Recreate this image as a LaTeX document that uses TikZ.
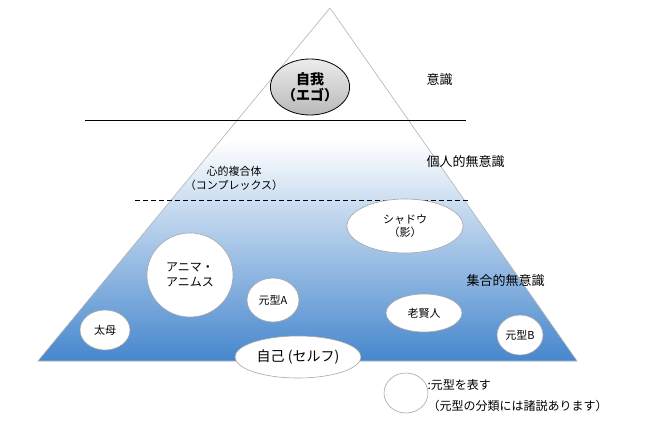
\documentclass[tikz,border=0pt]{standalone}
\usepackage{fontspec}
\setmainfont{Noto Sans CJK JP}
\begin{document}
\begin{tikzpicture}[x=1pt,y=-1pt,
  arch/.style={ellipse,draw=gray!70,fill=white,line width=0.6pt,inner sep=0pt,align=center,font=\fontsize{11}{13}\selectfont},
  lbl/.style={font=\fontsize{13}{15}\selectfont,anchor=west}]
\useasboundingbox (0,0) rectangle (663,429);
\usetikzlibrary{shapes.geometric}
\definecolor{pb}{RGB}{70,135,205}
\coordinate (T) at (330,8);
\coordinate (L) at (38,361);
\coordinate (R) at (577,361);
\begin{scope}
\clip (T) -- (L) -- (R) -- cycle;
\fill[white] (0,0) rectangle (663,140);
\shade[top color=white,bottom color=pb] (0,140) rectangle (663,361);
\end{scope}
\draw[gray!60,line width=0.6pt] (T) -- (L) -- (R) -- cycle;
\coordinate (s1) at (85,120); \coordinate (s2) at (466,120);
\draw[line width=1pt] (s1) -- (s2);
\coordinate (d1) at (135,200); \coordinate (d2) at (470,200);
\draw[line width=1pt,dashed,dash pattern=on 5pt off 3pt] (d1) -- (d2);
\node[ellipse,draw=black,line width=0.8pt,top color=gray!15,bottom color=gray!55,minimum width=78pt,minimum height=56pt,inner sep=0pt,align=center,font=\fontsize{14}{16}\selectfont\bfseries] (ego) at (310,87) {自我\\（エゴ）};
\node[lbl] (ishiki) at (423,80) {意識};
\node[lbl] (kojin) at (423,162) {個人的無意識};
\node[lbl] (shugo) at (463,281) {集合的無意識};
\node[align=center,font=\fontsize{11}{14}\selectfont] (comp) at (234,178) {心的複合体\\（コンプレックス）};
\node[arch,minimum width=116pt,minimum height=54pt] (shadow) at (405,226) {シャドウ\\（影）};
\node[arch,minimum width=86pt,minimum height=84pt,font=\fontsize{12}{15}\selectfont] (anima) at (190,275) {アニマ・\\アニムス};
\node[arch,minimum width=52pt,minimum height=44pt] (a) at (273,300) {元型A};
\node[arch,minimum width=76pt,minimum height=38pt] (rou) at (424,313) {老賢人};
\node[arch,minimum width=50pt,minimum height=40pt] (tai) at (105,330) {太母};
\node[arch,minimum width=46pt,minimum height=40pt] (b) at (520,335) {元型B};
\node[arch,minimum width=126pt,minimum height=42pt,font=\fontsize{14}{16}\selectfont] (self) at (298,357) {自己 (セルフ)};
\node[arch,minimum width=44pt,minimum height=40pt] (leg) at (406,393) {};
\node[anchor=west,font=\fontsize{12}{14}\selectfont] (lt1) at (424,385) {:元型を表す};
\node[anchor=west,font=\fontsize{12}{14}\selectfont] (lt2) at (424,406) {（元型の分類には諸説あります）};
\end{tikzpicture}
\end{document}
